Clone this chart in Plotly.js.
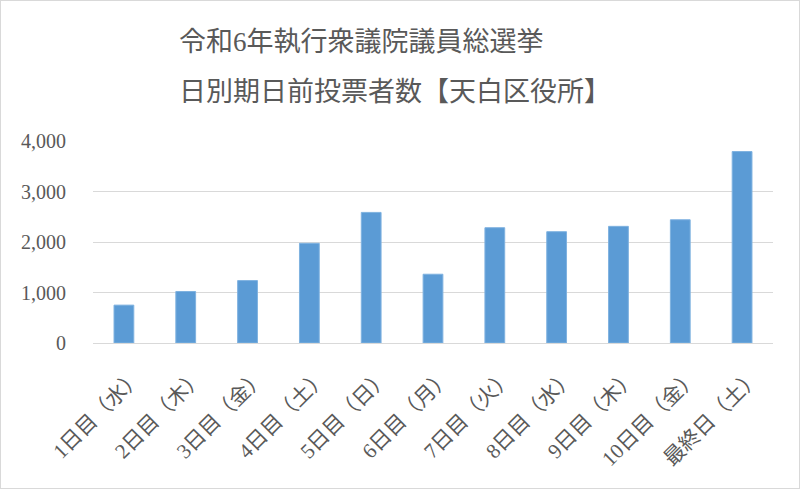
<!DOCTYPE html>
<html>
<head>
<meta charset="utf-8">
<script src="https://cdn.plot.ly/plotly-3.0.1.min.js"></script>
<style>
  html, body { margin: 0; padding: 0; background: #fff; }
  #chart { width: 800px; height: 489px; box-sizing: border-box; border: 1px solid #d9d9d9; }
</style>
</head>
<body>
<div id="chart"></div>
<script>
// 期日前投票者数 (天白区役所)
var dayLabels = ['1日目（水）', '2日目（木）', '3日目（金）', '4日目（土）', '5日目（日）', '6日目（月）',
                 '7日目（火）', '8日目（水）', '9日目（木）', '10日目（金）', '最終日（土）'];
var voters = [750, 1020, 1236, 1974, 2586, 1362, 2283, 2204, 2310, 2440, 3791];
var yTicks = [0, 1000, 2000, 3000, 4000];
var titleLines = ['令和6年執行衆議院議員総選挙', '日別期日前投票者数【天白区役所】'];

var FONT = "'Liberation Serif', 'Noto Sans CJK JP', serif";
var GRAY = '#595959';

var traces = [{
    type: 'bar',
    x: dayLabels,
    y: voters,
    marker: {
        color: '#5b9bd5',
        line: { color: '#7fb2e0', width: 1 }
    },
    hoverinfo: 'x+y'
}];

var layout = {
    width: 798,
    height: 487,
    paper_bgcolor: 'white',
    plot_bgcolor: 'white',
    showlegend: false,
    bargap: 0.68,
    font: { family: FONT, color: GRAY, size: 20 },
    margin: { l: 92, r: 26, t: 140, b: 145, pad: 0 },
    xaxis: {
        type: 'category',
        tickangle: -45,
        tickfont: { family: FONT, size: 21, color: GRAY },
        showline: true,
        linecolor: '#d9d9d9',
        linewidth: 1,
        ticks: '',
        ticklabelstandoff: 12,
        ticklabelshift: 12,
        fixedrange: true
    },
    yaxis: {
        range: [0, 4000],
        tickvals: yTicks,
        tickformat: ',d',
        tickfont: { family: FONT, size: 20, color: GRAY },
        gridcolor: '#d9d9d9',
        gridwidth: 1,
        zeroline: false,
        showline: false,
        ticks: '',
        ticklabelstandoff: 26,
        fixedrange: true
    },
    annotations: [
        {
            text: titleLines[0],
            xref: 'paper', yref: 'paper',
            x: (176 - 92) / 680, y: 1 + (140 - 41) / 202,
            xanchor: 'left', yanchor: 'middle',
            showarrow: false,
            font: { family: FONT, size: 27, color: GRAY }
        },
        {
            text: titleLines[1],
            xref: 'paper', yref: 'paper',
            x: (176 - 92) / 680, y: 1 + (140 - 91) / 202,
            xanchor: 'left', yanchor: 'middle',
            showarrow: false,
            font: { family: FONT, size: 27, color: GRAY }
        }
    ]
};

Plotly.newPlot('chart', traces, layout, { displayModeBar: false, staticPlot: true });
</script>
</body>
</html>
